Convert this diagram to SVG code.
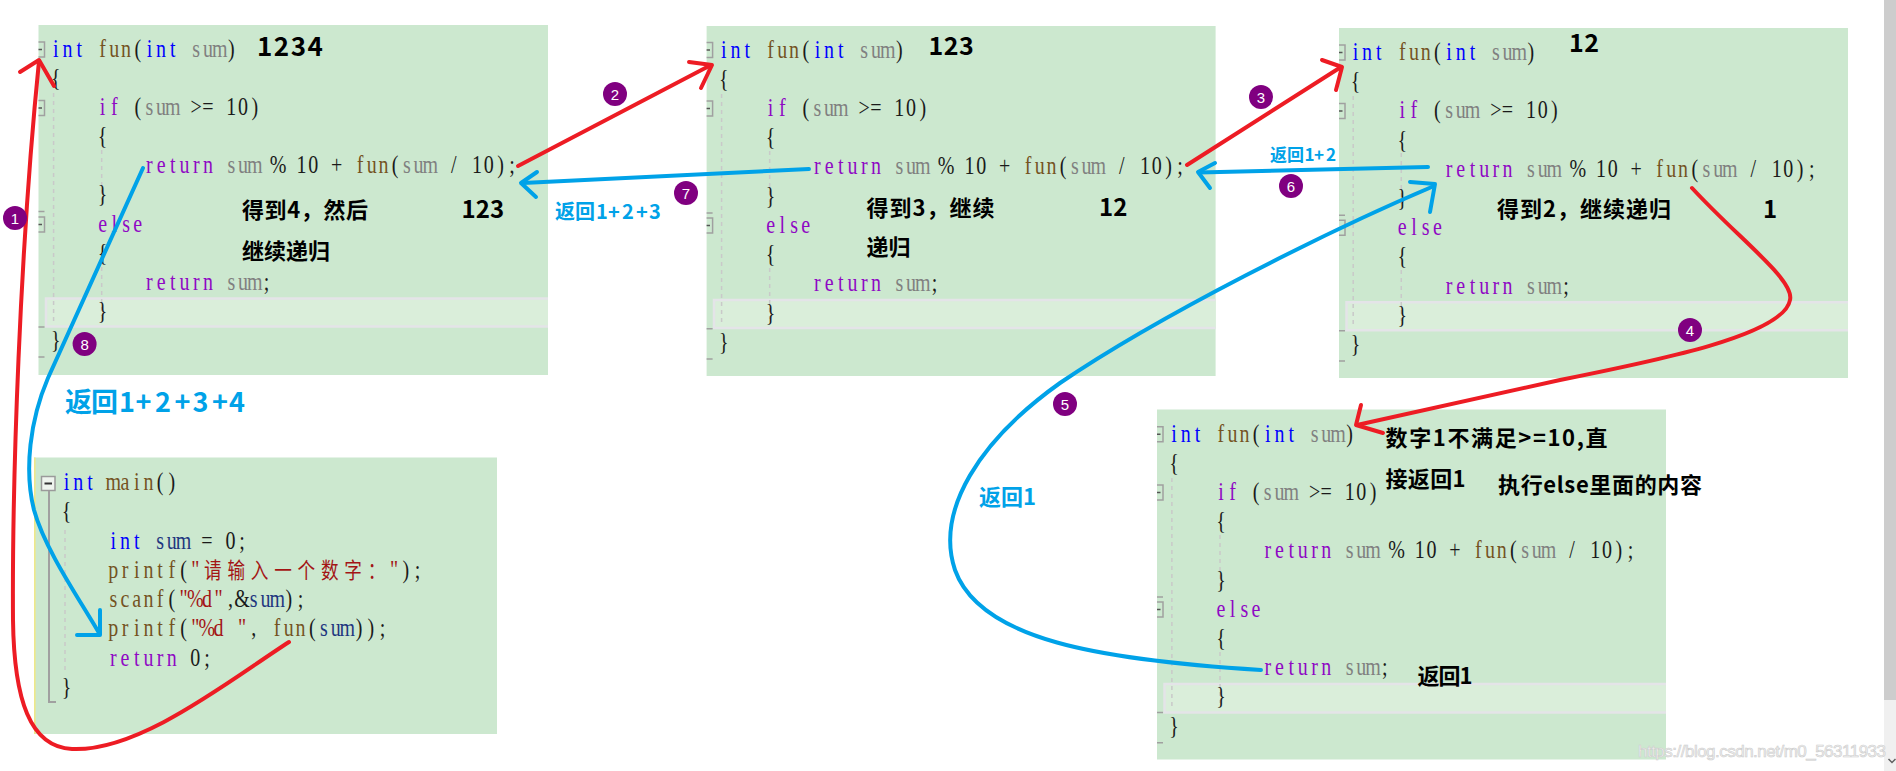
<svg xmlns="http://www.w3.org/2000/svg" width="1896" height="771" viewBox="0 0 1896 771">
<style>
.box{fill:#cce8cf}
.band{fill:#daeeda;stroke:#e4e4e8;stroke-width:2.5}
.code{font-family:"Liberation Serif","DejaVu Serif",serif;font-size:25px;fill:#1a1a1a;text-anchor:middle;white-space:pre}
.k{fill:#0000ff}
.f{fill:#74531f}
.p{fill:#808080}
.c{fill:#8f08c4}
.v{fill:#1f377f}
.s{fill:#a31515}
.cjk{font-family:"Noto Sans CJK SC",sans-serif;font-size:22px}
.mk{fill:none;stroke:#a0a0a0;stroke-width:1.5}
.mn{fill:none;stroke:#555;stroke-width:1.5}
.guide{stroke:#c9c9c9;stroke-width:1.5;stroke-dasharray:4 4;fill:none}
.note{font-family:"Noto Sans CJK SC","Noto Sans",sans-serif;font-weight:700;fill:#000;font-size:22px}
.num{font-size:24px}
.big{font-size:26px}
.bl{fill:#00a2e8}
.red{fill:none;stroke:#ed1c24;stroke-width:4;stroke-linecap:round;stroke-linejoin:round}
.blue{fill:none;stroke:#00a2e8;stroke-width:4;stroke-linecap:round;stroke-linejoin:round}
.badge circle{fill:#800080}
.badge text{font-family:"Liberation Sans",sans-serif;font-size:15px;fill:#fff;text-anchor:middle}
</style>
<rect width="1896" height="771" fill="#ffffff"/>

<g id="fun-1234">
<rect class="box" x="38.5" y="25" width="509.5" height="350"/>
<path class="band" d="M548,298.5 H46 V326.5 H548"/>
<path class="guide" d="M53.6,93 V323 M101.7,150 V200 M101.7,267 V316"/>
<path class="mk" d="M38.5,42 H44.5 V57 H38.5 M38.5,100.5 H44.5 V115.5 H38.5 M38.5,217 H44.5 V232 H38.5 M38.5,211.5 H44.5 M38.5,327 H44.5 M38.5,357 H44.5"/>
<path class="mn" d="M38.5,49.5 H42 M38.5,108 H42 M38.5,224.5 H42"/>
<g class="code" transform="translate(50,57) scale(0.8,1)">
<text x="7.3 21.9 36.6 51.2 65.8 80.4 95.1 109.7 124.3 138.9 153.6 168.2 182.8 197.4 212.1 226.7" y="0"><tspan class="k">int</tspan> <tspan class="f">fun</tspan>(<tspan class="k">int</tspan> <tspan class="p">sum</tspan>)</text>
<text x="7.3" y="29.1">{</text>
<text x="65.8 80.4 95.1 109.7 124.3 138.9 153.6 168.2 182.8 197.4 212.1 226.7 241.3 255.9" y="58.2"><tspan class="c">if</tspan> (<tspan class="p">sum</tspan> &gt;= 10)</text>
<text x="65.8" y="87.3">{</text>
<text x="124.3 138.9 153.6 168.2 182.8 197.4 212.1 226.7 241.3 255.9 270.6 285.2 299.8 314.4 329.1 343.7 358.3 372.9 387.6 402.2 416.8 431.4 446.1 460.7 475.3 489.9 504.6 519.2 533.8 548.4 563.1 577.7" y="116.4"><tspan class="c">return</tspan> <tspan class="p">sum</tspan> % 10 + <tspan class="f">fun</tspan>(<tspan class="p">sum</tspan> / 10);</text>
<text x="65.8" y="145.5">}</text>
<text x="65.8 80.4 95.1 109.7" y="174.6"><tspan class="c">else</tspan></text>
<text x="65.8" y="203.7">{</text>
<text x="124.3 138.9 153.6 168.2 182.8 197.4 212.1 226.7 241.3 255.9 270.6" y="232.8"><tspan class="c">return</tspan> <tspan class="p">sum</tspan>;</text>
<text x="65.8" y="261.9">}</text>
<text x="7.3" y="291">}</text>
</g>
<text class="note big" x="257" y="56" letter-spacing="1.5">1234</text>
<text class="note" x="242" y="218" textLength="126">得到4，然后</text>
<text class="note num" x="461.6" y="218">123</text>
<text class="note" x="242" y="259">继续递归</text>
</g>

<g id="fun-123">
<rect class="box" x="706.6" y="26" width="509" height="350"/>
<path class="band" d="M1215.6,300 H714 V328 H1215.6"/>
<path class="guide" d="M721.6,94 V325 M769.7,151 V202 M769.7,268 V319"/>
<path class="mk" d="M706.6,42.5 H712.6 V57.5 H706.6 M706.6,101 H712.6 V116 H706.6 M706.6,218 H712.6 V233 H706.6 M706.6,213 H712.6 M706.6,328.7 H712.6 M706.6,359 H712.6"/>
<path class="mn" d="M706.6,50 H710 M706.6,108.5 H710 M706.6,225.5 H710"/>
<g class="code" transform="translate(718,57.5) scale(0.8,1)">
<text x="7.3 21.9 36.6 51.2 65.8 80.4 95.1 109.7 124.3 138.9 153.6 168.2 182.8 197.4 212.1 226.7" y="0"><tspan class="k">int</tspan> <tspan class="f">fun</tspan>(<tspan class="k">int</tspan> <tspan class="p">sum</tspan>)</text>
<text x="7.3" y="29.25">{</text>
<text x="65.8 80.4 95.1 109.7 124.3 138.9 153.6 168.2 182.8 197.4 212.1 226.7 241.3 255.9" y="58.5"><tspan class="c">if</tspan> (<tspan class="p">sum</tspan> &gt;= 10)</text>
<text x="65.8" y="87.75">{</text>
<text x="124.3 138.9 153.6 168.2 182.8 197.4 212.1 226.7 241.3 255.9 270.6 285.2 299.8 314.4 329.1 343.7 358.3 372.9 387.6 402.2 416.8 431.4 446.1 460.7 475.3 489.9 504.6 519.2 533.8 548.4 563.1 577.7" y="117"><tspan class="c">return</tspan> <tspan class="p">sum</tspan> % 10 + <tspan class="f">fun</tspan>(<tspan class="p">sum</tspan> / 10);</text>
<text x="65.8" y="146.25">}</text>
<text x="65.8 80.4 95.1 109.7" y="175.5"><tspan class="c">else</tspan></text>
<text x="65.8" y="204.75">{</text>
<text x="124.3 138.9 153.6 168.2 182.8 197.4 212.1 226.7 241.3 255.9 270.6" y="234"><tspan class="c">return</tspan> <tspan class="p">sum</tspan>;</text>
<text x="65.8" y="263.25">}</text>
<text x="7.3" y="292.5">}</text>
</g>
<text class="note" x="928.6" y="55" style="font-size:25px" letter-spacing="0.5">123</text>
<text class="note" x="866.6" y="216" textLength="128">得到3，继续</text>
<text class="note num" x="1099" y="216">12</text>
<text class="note" x="866.6" y="255">递归</text>
</g>

<g id="fun-12">
<rect class="box" x="1339" y="28" width="509" height="350"/>
<path class="band" d="M1848,302.3 H1346.5 V330.3 H1848"/>
<path class="guide" d="M1353.2,96 V327 M1401.3,153 V204 M1401.3,270 V321"/>
<path class="mk" d="M1339,45 H1345 V60 H1339 M1339,103.4 H1345 V118.4 H1339 M1339,220.2 H1345 V235.2 H1339 M1339,215.2 H1345 M1339,330.8 H1345 M1339,361 H1345"/>
<path class="mn" d="M1339,52.5 H1342.5 M1339,111 H1342.5 M1339,227.7 H1342.5"/>
<g class="code" transform="translate(1349.6,60) scale(0.8,1)">
<text x="7.3 21.9 36.6 51.2 65.8 80.4 95.1 109.7 124.3 138.9 153.6 168.2 182.8 197.4 212.1 226.7" y="0"><tspan class="k">int</tspan> <tspan class="f">fun</tspan>(<tspan class="k">int</tspan> <tspan class="p">sum</tspan>)</text>
<text x="7.3" y="29.2">{</text>
<text x="65.8 80.4 95.1 109.7 124.3 138.9 153.6 168.2 182.8 197.4 212.1 226.7 241.3 255.9" y="58.4"><tspan class="c">if</tspan> (<tspan class="p">sum</tspan> &gt;= 10)</text>
<text x="65.8" y="87.6">{</text>
<text x="124.3 138.9 153.6 168.2 182.8 197.4 212.1 226.7 241.3 255.9 270.6 285.2 299.8 314.4 329.1 343.7 358.3 372.9 387.6 402.2 416.8 431.4 446.1 460.7 475.3 489.9 504.6 519.2 533.8 548.4 563.1 577.7" y="116.8"><tspan class="c">return</tspan> <tspan class="p">sum</tspan> % 10 + <tspan class="f">fun</tspan>(<tspan class="p">sum</tspan> / 10);</text>
<text x="65.8" y="146">}</text>
<text x="65.8 80.4 95.1 109.7" y="175.2"><tspan class="c">else</tspan></text>
<text x="65.8" y="204.4">{</text>
<text x="124.3 138.9 153.6 168.2 182.8 197.4 212.1 226.7 241.3 255.9 270.6" y="233.6"><tspan class="c">return</tspan> <tspan class="p">sum</tspan>;</text>
<text x="65.8" y="262.8">}</text>
<text x="7.3" y="292">}</text>
</g>
<text class="note" x="1569" y="52" style="font-size:25px" letter-spacing="0.5">12</text>
<text class="note" x="1497" y="217" textLength="174">得到2，继续递归</text>
<text class="note num" x="1763" y="218">1</text>
</g>

<g id="fun-1">
<rect class="box" x="1157" y="409.5" width="509" height="350"/>
<path class="band" d="M1666,684 H1164.5 V712.5 H1666"/>
<path class="guide" d="M1171.9,478 V709 M1220,535 V586 M1220,652 V703"/>
<path class="mk" d="M1157,426.7 H1163 V441.7 H1157 M1157,485 H1163 V500 H1157 M1157,602 H1163 V617 H1157 M1157,596.9 H1163 M1157,712.5 H1163 M1157,742.7 H1163"/>
<path class="mn" d="M1157,434.2 H1160.5 M1157,492.5 H1160.5 M1157,609.5 H1160.5"/>
<g class="code" transform="translate(1168.3,441.7) scale(0.8,1)">
<text x="7.3 21.9 36.6 51.2 65.8 80.4 95.1 109.7 124.3 138.9 153.6 168.2 182.8 197.4 212.1 226.7" y="0"><tspan class="k">int</tspan> <tspan class="f">fun</tspan>(<tspan class="k">int</tspan> <tspan class="p">sum</tspan>)</text>
<text x="7.3" y="29.2">{</text>
<text x="65.8 80.4 95.1 109.7 124.3 138.9 153.6 168.2 182.8 197.4 212.1 226.7 241.3 255.9" y="58.4"><tspan class="c">if</tspan> (<tspan class="p">sum</tspan> &gt;= 10)</text>
<text x="65.8" y="87.6">{</text>
<text x="124.3 138.9 153.6 168.2 182.8 197.4 212.1 226.7 241.3 255.9 270.6 285.2 299.8 314.4 329.1 343.7 358.3 372.9 387.6 402.2 416.8 431.4 446.1 460.7 475.3 489.9 504.6 519.2 533.8 548.4 563.1 577.7" y="116.8"><tspan class="c">return</tspan> <tspan class="p">sum</tspan> % 10 + <tspan class="f">fun</tspan>(<tspan class="p">sum</tspan> / 10);</text>
<text x="65.8" y="146">}</text>
<text x="65.8 80.4 95.1 109.7" y="175.2"><tspan class="c">else</tspan></text>
<text x="65.8" y="204.4">{</text>
<text x="124.3 138.9 153.6 168.2 182.8 197.4 212.1 226.7 241.3 255.9 270.6" y="233.6"><tspan class="c">return</tspan> <tspan class="p">sum</tspan>;</text>
<text x="65.8" y="262.8">}</text>
<text x="7.3" y="292">}</text>
</g>
<text class="note" x="1385.5" y="446" textLength="222">数字1不满足&gt;=10,直</text>
<text class="note" x="1385.5" y="487" textLength="80">接返回1</text>
<text class="note" x="1498" y="493" textLength="204">执行else里面的内容</text>
<text class="note" x="1417.6" y="684" textLength="55">返回1</text>
</g>

<g id="main">
<rect class="box" x="34" y="457.5" width="463" height="276.5"/>
<rect x="34" y="457.5" width="1.6" height="276.5" fill="#eee88a"/>
<rect x="41.5" y="476.5" width="13.5" height="14" fill="#eef4ee" stroke="#9a9a9a" stroke-width="1.5"/>
<path d="M44.5,483.5 H52" stroke="#333" stroke-width="2"/>
<path d="M49,491 V702 H56" stroke="#a0a0a0" stroke-width="2" fill="none"/>
<path class="guide" d="M65,530 V672"/>
<g class="code" transform="translate(60.7,490) scale(0.8,1)">
<text x="7.3 21.9 36.6 51.2 65.8 80.4 95.1 109.7 124.3 138.9" y="0"><tspan class="k">int</tspan> <tspan class="f">main</tspan>()</text>
<text x="7.3" y="29.3">{</text>
<text x="65.8 80.4 95.1 109.7 124.3 138.9 153.6 168.2 182.8 197.4 212.1 226.7" y="58.6"><tspan class="k">int</tspan> <tspan class="v">sum</tspan> = 0;</text>
<text x="65.8 80.4 95.1 109.7 124.3 138.9 153.6 168.2 190.1 219.4 248.6 277.9 307.1 336.4 365.6 394.9 416.8 431.4 446.1" y="87.9"><tspan class="f">printf</tspan>(<tspan class="s">"</tspan><tspan class="s cjk">请输入一个数字：</tspan><tspan class="s">"</tspan>);</text>
<text x="65.8 80.4 95.1 109.7 124.3 138.9 153.6 168.2 182.8 197.4 212.1 226.7 241.3 255.9 270.6 285.2 299.8" y="117.2"><tspan class="f">scanf</tspan>(<tspan class="s">"%d"</tspan>,&amp;<tspan class="v">sum</tspan>);</text>
<text x="65.8 80.4 95.1 109.7 124.3 138.9 153.6 168.2 182.8 197.4 212.1 226.7 241.3 255.9 270.6 285.2 299.8 314.4 329.1 343.7 358.3 372.9 387.6 402.2" y="146.5"><tspan class="f">printf</tspan>(<tspan class="s">"%d "</tspan>, <tspan class="f">fun</tspan>(<tspan class="v">sum</tspan>));</text>
<text x="65.8 80.4 95.1 109.7 124.3 138.9 153.6 168.2 182.8" y="175.8"><tspan class="c">return</tspan> 0;</text>
<text x="7.3" y="205.1">}</text>
</g>
</g>

<g id="connectors">
<path class="red" d="M289,642 C230,680 140,752 72,749 C30,747 14,700 13,620 C12,480 20,250 39,61"/>
<path class="red" d="M20,72 L39,60 L54,86"/>
<path class="red" d="M518,166 L711,65"/>
<path class="red" d="M689,62 L712,65 L701,88"/>
<path class="red" d="M1187,165 L1341,67"/>
<path class="red" d="M1322,60 L1342,67 L1336,90"/>
<path class="red" d="M1692,188 C1740,240 1795,280 1790,300 C1784,335 1660,360 1560,380 L1357,425"/>
<path class="red" d="M1361,405 L1356,425 L1383,433"/>
<path class="blue" d="M1261,670 C1100,660 980,640 955,570 C935,510 980,440 1060,383 C1160,315 1330,230 1434,186"/>
<path class="blue" d="M1410,182 L1435,184 L1430,212"/>
<path class="blue" d="M1428,167 L1199,172.5"/>
<path class="blue" d="M1215,163 L1198,172 L1210,188"/>
<path class="blue" d="M809,169 L523,183"/>
<path class="blue" d="M537,172 L521,183 L536,197"/>
<path class="blue" d="M143,168 L48,378 C30,420 24,470 34,510 C45,550 80,600 99,633"/>
<path class="blue" d="M100,610 L100,635 L77,635"/>
<text class="note bl" x="65 91 119 135.5 155 174.5 192.5 212 229" y="412" style="font-size:27px">返回1+2+3+4</text>
<text class="note bl" x="555 575 596 608 622 636 649" y="219" style="font-size:20px">返回1+2+3</text>
<text class="note bl" x="1270 1287 1304.5 1314 1326" y="161" style="font-size:17px">返回1+2</text>
<text class="note bl" x="979" y="505">返回1</text>
</g>

<g id="step-badges" class="badge">
<circle cx="15" cy="218" r="12"/><text x="15" y="223.5">1</text>
<circle cx="615" cy="94" r="12"/><text x="615" y="99.5">2</text>
<circle cx="1261" cy="97" r="12"/><text x="1261" y="102.5">3</text>
<circle cx="1690" cy="330" r="12"/><text x="1690" y="335.5">4</text>
<circle cx="1065" cy="404" r="12"/><text x="1065" y="409.5">5</text>
<circle cx="1291" cy="186" r="12"/><text x="1291" y="191.5">6</text>
<circle cx="686" cy="193" r="12"/><text x="686" y="198.5">7</text>
<circle cx="84.6" cy="344" r="12"/><text x="84.6" y="349.5">8</text>
</g>

<g id="scrollbar">
<rect x="1884" y="0" width="12" height="700" fill="#cdcdcd"/>
<rect x="1884" y="700" width="12" height="71" fill="#f0f0f0"/>
<path d="M1888.5,759 L1892,762.5 L1895.5,759" fill="none" stroke="#606060" stroke-width="1.5"/>
</g>
<text x="1638" y="757" font-family="Liberation Sans, sans-serif" font-size="17" textLength="248" fill="#f2f2f2" stroke="#cccccc" stroke-width="0.6">https://blog.csdn.net/m0_56311933</text>
</svg>
